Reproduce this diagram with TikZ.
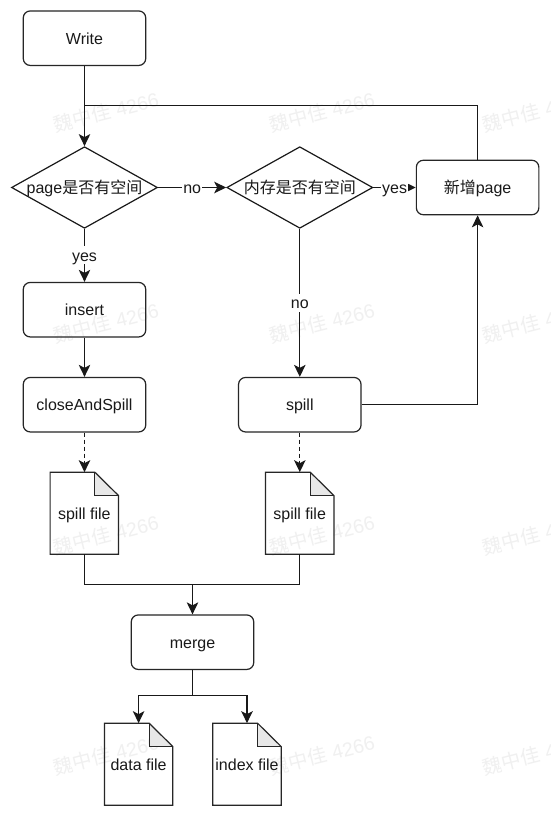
\documentclass[tikz,border=0pt]{standalone}
\usepackage{fontspec}
\setmainfont{Liberation Sans}
\newfontfamily\cjk{Noto Sans CJK SC}
\usetikzlibrary{shapes.geometric,arrows.meta}
\tikzset{
  base/.style={font=\fontsize{16}{18}\selectfont, text=black!90, text height=14pt, text depth=2pt},
  rbox/.style={base, draw=black!85, line width=1.2pt, rounded corners=7pt, minimum width=122.5pt, minimum height=54.5pt, inner sep=0pt},
  dec/.style={base, draw=black!90, line width=1.2pt, shape=diamond, aspect=1.8, minimum width=146pt, minimum height=81.6pt, inner sep=0pt},
  filebox/.style={base, minimum width=68pt, minimum height=81.7pt, inner sep=0pt},
  fileline/.style={draw=black!85, line width=1.2pt, line join=miter},
  conn/.style={draw=black!90, line width=1.3pt},
  arr/.style={conn, -{Stealth[length=12pt,width=11.5pt,inset=3pt]}},
  lab/.style={base, fill=white, inner sep=1pt},
  wm/.style={font=\fontsize{19.5}{21}\selectfont, text=black!6, rotate=14},
}
\newcommand{\wmtext}{{\cjk 魏中佳} 4266}
\newcommand{\filedraw}[1]{%
  \fill[black!9] ([xshift=44.7pt]#1.north west) -- ([yshift=-23.4pt]#1.north east) -- ([xshift=44.7pt,yshift=-23.4pt]#1.north west) -- cycle;
  \draw[fileline] (#1.north west) -- ([xshift=44.7pt]#1.north west) -- ([yshift=-23.4pt]#1.north east) -- (#1.south east) -- (#1.south west) -- cycle;
  \draw[fileline] ([xshift=44.7pt]#1.north west) -- ([xshift=44.7pt,yshift=-23.4pt]#1.north west) -- ([yshift=-23.4pt]#1.north east);
}
\begin{document}
\begin{tikzpicture}[x=1pt,y=-1pt]
\useasboundingbox (0,0) rectangle (551,817);
\fill[white] (0,0) rectangle (551,817);
\begin{scope}
\clip (0,0) rectangle (551,817);
\foreach \yy/\nn in {112/a,323/b,535/c,755/d}{
  \node[wm] (wm1\nn) at (106,\yy) {\wmtext};
  \node[wm] (wm2\nn) at (322,\yy) {\wmtext};
  \node[wm] (wm3\nn) at (535,\yy) {\wmtext};
}
\end{scope}

\node[rbox] (write) at (84.5,38.2) {Write};
\node[dec] (d1) at (84.5,187.5) {page{\cjk 是否有空间}};
\node[dec] (d2) at (299.8,187.5) {{\cjk 内存是否有空间}};
\node[rbox] (page) at (477.6,187.5) {{\cjk 新增}page};
\node[rbox] (insert) at (84.5,309.7) {insert};
\node[rbox] (close) at (84.5,404.7) {closeAndSpill};
\node[rbox] (spill) at (299.8,404.7) {spill};
\node[filebox] (f1) at (84.3,513.2) {spill file};
\node[filebox] (f2) at (299.7,513.2) {spill file};
\node[rbox] (merge) at (192.5,642.2) {merge};
\node[filebox] (data) at (138.6,764.2) {data file};
\node[filebox] (index) at (247,764.2) {index file};
\filedraw{f1}
\filedraw{f2}
\filedraw{data}
\filedraw{index}

\coordinate (loopj) at (84.5,105.6);
\coordinate (mj) at (192.5,584.3);
\coordinate (bj) at (192.5,695.6);

\draw[arr] (write) -- (d1);
\draw[conn] (page.north) |- (loopj);
\draw[arr] (d1) -- node[lab,pos=0.5] {no} (d2);
\draw[arr] (d2) -- node[lab,pos=0.5] {yes} (page);
\draw[arr] (d1) -- node[lab,pos=0.5] {yes} (insert);
\draw[arr] (d2) -- node[lab,pos=0.5] {no} (spill);
\draw[arr] (insert) -- (close);
\draw[arr] (spill) -| (page);
\draw[arr,dash pattern=on 4pt off 3pt] (close) -- (close |- f1.north);
\draw[arr,dash pattern=on 4pt off 3pt] (spill) -- (spill |- f2.north);
\draw[conn] (f1.south) |- (mj);
\draw[conn] (f2.south) |- (mj);
\draw[arr] (mj) -- (merge);
\draw[conn] (merge) -- (bj);
\draw[arr] (bj) -| (data.north);
\draw[arr] (bj) -| (index.north);
\end{tikzpicture}
\end{document}
